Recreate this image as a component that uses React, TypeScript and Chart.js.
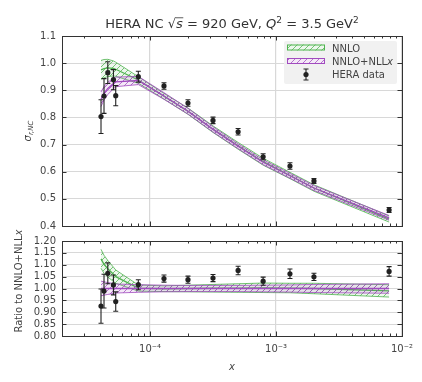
import React, { useEffect, useRef } from 'react';
import { Chart, registerables } from 'chart.js';
Chart.register(...registerables);

// ---------- data ----------
const xValues = [4.08e-5, 4.31e-5, 4.62e-5, 5.12e-5, 5.34e-5, 8.07e-5, 1.29e-4, 2.0e-4, 3.16e-4, 5.0e-4, 7.9e-4, 1.29e-3, 2.0e-3, 7.9e-3];
const sigmaValues = [0.803, 0.879, 0.965, 0.939, 0.88, 0.95, 0.916, 0.853, 0.789, 0.747, 0.655, 0.621, 0.566, 0.459];
const sigmaErrors = [0.062, 0.064, 0.04, 0.037, 0.037, 0.02, 0.012, 0.012, 0.012, 0.012, 0.011, 0.012, 0.009, 0.009];
const ratioValues = [0.926, 0.989, 1.064, 1.015, 0.945, 1.016, 1.042, 1.037, 1.044, 1.076, 1.031, 1.062, 1.049, 1.072];
const ratioErrors = [0.072, 0.071, 0.044, 0.042, 0.041, 0.021, 0.015, 0.015, 0.015, 0.018, 0.017, 0.02, 0.015, 0.02];
const nllxCentral = [0.867, 0.889, 0.907, 0.925, 0.931, 0.936, 0.879, 0.823, 0.756, 0.694, 0.635, 0.585, 0.54, 0.43];
const nllxRelErr = [0.031, 0.028, 0.025, 0.021, 0.019, 0.016, 0.014, 0.013, 0.013, 0.013, 0.014, 0.015, 0.017, 0.02];
const nnloRatio = [1.125, 1.102, 1.083, 1.06, 1.05, 1.002, 0.999, 1.0, 1.001, 1.002, 1.003, 1.002, 1.0, 0.99];
const nnloRatioErr = [0.04, 0.038, 0.035, 0.03, 0.028, 0.013, 0.012, 0.014, 0.016, 0.018, 0.02, 0.02, 0.022, 0.026];
const topYTicks = [0.4, 0.5, 0.6, 0.7, 0.8, 0.9, 1.0, 1.1];
const ratioYTicks = [0.8, 0.85, 0.9, 0.95, 1.0, 1.05, 1.1, 1.15, 1.2];
const xDecadeLabels: Record<string, string> = { '-4': '10⁻⁴', '-3': '10⁻³', '-2': '10⁻²' };
const X_MIN = 2e-5;
const X_MAX = 1e-2;

// ---------- style ----------
const FONT = '"DejaVu Sans", sans-serif';
const GREEN = '#4fb34f';
const PURPLE = '#a14bbf';
const TEXT = '#444444';
const DARK = '#222222';

function makeHatch(line: string, bg: string) {
  const c = document.createElement('canvas');
  c.width = 6; c.height = 6;
  const g = c.getContext('2d')!;
  g.fillStyle = bg; g.fillRect(0, 0, 6, 6);
  g.strokeStyle = line; g.lineWidth = 0.9;
  g.beginPath();
  g.moveTo(0, 6); g.lineTo(6, 0);
  g.moveTo(-1, 1); g.lineTo(1, -1);
  g.moveTo(5, 7); g.lineTo(7, 5);
  g.stroke();
  return g.createPattern(c, 'repeat')!;
}

type Seg = { t: string; italic?: boolean; sup?: boolean; sub?: boolean; over?: boolean };
function drawRich(ctx: CanvasRenderingContext2D, segs: Seg[], cx: number, cy: number, size: number, align: 'center' | 'left' = 'center') {
  const fontFor = (s: Seg) => `${s.italic ? 'italic ' : ''}${s.sup || s.sub ? Math.round(size * 0.7) : size}px ${FONT}`;
  const widths = segs.map((s) => { ctx.font = fontFor(s); return ctx.measureText(s.t).width; });
  const total = widths.reduce((a, b) => a + b, 0);
  let x = align === 'center' ? cx - total / 2 : cx;
  const base = cy + size * 0.36;
  ctx.textAlign = 'left';
  ctx.textBaseline = 'alphabetic';
  segs.forEach((s, i) => {
    ctx.font = fontFor(s);
    const yy = s.sup ? base - size * 0.42 : s.sub ? base + size * 0.22 : base;
    ctx.fillText(s.t, x, yy);
    if (s.over) {
      ctx.save();
      ctx.strokeStyle = ctx.fillStyle as string;
      ctx.lineWidth = 0.8;
      ctx.beginPath();
      ctx.moveTo(x - 0.5, base - size * 0.8);
      ctx.lineTo(x + widths[i] + 0.5, base - size * 0.8);
      ctx.stroke();
      ctx.restore();
    }
    x += widths[i];
  });
  return total;
}

function buildXTicks() {
  const ticks: { value: number; major: boolean }[] = [];
  for (let e = -5; e <= -2; e++) {
    for (let m = 1; m <= 9; m++) {
      const v = m * Math.pow(10, e);
      if (v >= X_MIN * 0.999 && v <= X_MAX * 1.001) ticks.push({ value: v, major: m === 1 });
    }
  }
  return ticks;
}

function frameAndErrors(values: number[], errors: number[]) {
  return {
    id: 'frameAndErrors',
    afterDatasetsDraw(chart: any) {
      const { ctx, scales } = chart;
      const xs = scales.x, ys = scales.y;
      ctx.save();
      ctx.strokeStyle = DARK;
      ctx.lineWidth = 1.1;
      xValues.forEach((xv, i) => {
        const px = xs.getPixelForValue(xv);
        const y1 = ys.getPixelForValue(values[i] - errors[i]);
        const y2 = ys.getPixelForValue(values[i] + errors[i]);
        ctx.beginPath();
        ctx.moveTo(px, y1); ctx.lineTo(px, y2);
        ctx.moveTo(px - 2.5, y1); ctx.lineTo(px + 2.5, y1);
        ctx.moveTo(px - 2.5, y2); ctx.lineTo(px + 2.5, y2);
        ctx.stroke();
      });
      ctx.restore();
    },
    afterDraw(chart: any) {
      const { ctx, chartArea: a, scales } = chart;
      const xs = scales.x, ys = scales.y;
      ctx.save();
      ctx.strokeStyle = '#333333';
      ctx.lineWidth = 1;
      ctx.beginPath();
      xs.ticks.forEach((t: any) => {
        const px = Math.round(xs.getPixelForValue(t.value)) + 0.5;
        const len = t.major ? 4.5 : 2.5;
        ctx.moveTo(px, a.bottom); ctx.lineTo(px, a.bottom - len);
        ctx.moveTo(px, a.top); ctx.lineTo(px, a.top + len);
      });
      ys.ticks.forEach((t: any) => {
        const py = Math.round(ys.getPixelForValue(t.value)) + 0.5;
        ctx.moveTo(a.left, py); ctx.lineTo(a.left + 4.5, py);
        ctx.moveTo(a.right, py); ctx.lineTo(a.right - 4.5, py);
      });
      ctx.stroke();
      ctx.strokeRect(Math.round(a.left) + 0.5, Math.round(a.top) + 0.5, Math.round(a.right - a.left), Math.round(a.bottom - a.top));
      ctx.restore();
    },
  };
}

function bandDatasets(hi: number[], lo: number[], mid: number[], color: string, pattern: CanvasPattern, label: string) {
  const pts = (arr: number[]) => arr.map((v, i) => ({ x: xValues[i], y: v }));
  return [
    { label: label + ' center', data: pts(mid), borderColor: color, borderWidth: 1.3, pointRadius: 0, fill: false },
    { label, data: pts(hi), borderColor: color, borderWidth: 0.8, pointRadius: 0, fill: '+1', backgroundColor: pattern },
    { label: label + ' low', data: pts(lo), borderColor: color, borderWidth: 0.8, pointRadius: 0, fill: false },
  ];
}

function xScale(showLabels: boolean, height: number) {
  return {
    type: 'logarithmic',
    min: X_MIN,
    max: X_MAX,
    afterBuildTicks: (s: any) => { s.ticks = buildXTicks(); },
    afterFit: (s: any) => { s.height = height; },
    border: { display: false },
    grid: {
      drawTicks: false,
      lineWidth: 1.2,
      color: (c: any) => (c.tick && c.tick.major ? '#d8d8d8' : 'rgba(0,0,0,0)'),
    },
    ticks: {
      display: showLabels,
      autoSkip: false,
      maxRotation: 0,
      padding: 7,
      color: TEXT,
      font: { family: FONT, size: 10 },
      callback: (v: number) => {
        const e = Math.round(Math.log10(v));
        return Math.abs(Math.log10(v) - e) < 1e-6 && xDecadeLabels[String(e)] ? xDecadeLabels[String(e)] : '';
      },
    },
  };
}

function yScale(min: number, max: number, ticks: number[], digits: number) {
  return {
    type: 'linear',
    min, max,
    afterBuildTicks: (s: any) => { s.ticks = ticks.map((v) => ({ value: v })); },
    afterFit: (s: any) => { s.width = 62; },
    border: { display: false },
    grid: { drawTicks: false, color: '#d8d8d8', lineWidth: 1 },
    ticks: {
      padding: 6,
      autoSkip: false,
      color: TEXT,
      font: { family: FONT, size: 10 },
      callback: (v: number) => v.toFixed(digits),
    },
  };
}

const TOP_CANVAS_H = 240;
const BOT_CANVAS_TOP = 212;
const BOT_CANVAS_H = 382 - BOT_CANVAS_TOP;

export default function App() {
  const topRef = useRef<HTMLCanvasElement>(null);
  const botRef = useRef<HTMLCanvasElement>(null);

  useEffect(() => {
    const gPat = makeHatch('rgba(79,179,79,0.85)', 'rgba(79,179,79,0.10)');
    const pPat = makeHatch('rgba(161,75,191,0.85)', 'rgba(161,75,191,0.12)');

    // top panel bands
    const nllxHi = nllxCentral.map((v, i) => v * (1 + nllxRelErr[i]));
    const nllxLo = nllxCentral.map((v, i) => v * (1 - nllxRelErr[i]));
    const nnloMid = nllxCentral.map((v, i) => v * nnloRatio[i]);
    const nnloHi = nllxCentral.map((v, i) => v * (nnloRatio[i] + nnloRatioErr[i]));
    const nnloLo = nllxCentral.map((v, i) => v * (nnloRatio[i] - nnloRatioErr[i]));
    // ratio panel bands
    const rNllxMid = nllxCentral.map(() => 1);
    const rNllxHi = nllxRelErr.map((e) => 1 + e);
    const rNllxLo = nllxRelErr.map((e) => 1 - e);
    const rNnloHi = nnloRatio.map((v, i) => v + nnloRatioErr[i]);
    const rNnloLo = nnloRatio.map((v, i) => v - nnloRatioErr[i]);

    const dataSet = (vals: number[]) => ({
      label: 'HERA data',
      data: vals.map((v, i) => ({ x: xValues[i], y: v })),
      showLine: false,
      pointRadius: 2.6,
      pointBackgroundColor: DARK,
      pointBorderColor: DARK,
      pointBorderWidth: 0,
      borderColor: DARK,
      fill: false,
    });

    const topDecor = {
      id: 'topDecor',
      afterDraw(chart: any) {
        const { ctx, chartArea: a } = chart;
        ctx.save();
        // title
        ctx.fillStyle = '#333333';
        drawRich(ctx, [
          { t: 'HERA NC ' }, { t: '√' }, { t: 's', italic: true, over: true },
          { t: ' = 920 GeV, ' }, { t: 'Q', italic: true }, { t: '2', sup: true },
          { t: ' = 3.5 GeV' }, { t: '2', sup: true },
        ], (a.left + a.right) / 2, 23.5, 13);
        // y label
        ctx.save();
        ctx.translate(27, (a.top + a.bottom) / 2);
        ctx.rotate(-Math.PI / 2);
        ctx.fillStyle = TEXT;
        drawRich(ctx, [{ t: 'σ', italic: true }, { t: 'r,NC', italic: true, sub: true }], 0, 0, 10);
        ctx.restore();
        // legend
        const lx = 284, ly = 41, lw = 113, lh = 43;
        ctx.fillStyle = 'rgba(240,240,240,0.92)';
        ctx.beginPath();
        ctx.roundRect(lx, ly, lw, lh, 2);
        ctx.fill();
        const swatch = (y: number, pat: CanvasPattern, col: string) => {
          ctx.fillStyle = '#ffffff';
          ctx.fillRect(287, y - 3, 38, 6);
          ctx.fillStyle = pat;
          ctx.fillRect(287, y - 3, 38, 6);
          ctx.strokeStyle = col;
          ctx.lineWidth = 1;
          ctx.strokeRect(287.5, y - 2.5, 37, 5);
        };
        swatch(47.5, gPat, GREEN);
        swatch(61, pPat, PURPLE);
        ctx.fillStyle = TEXT;
        drawRich(ctx, [{ t: 'NNLO' }], 332, 48, 10, 'left');
        drawRich(ctx, [{ t: 'NNLO+NLL' }, { t: 'x', italic: true }], 332, 61.5, 10, 'left');
        drawRich(ctx, [{ t: 'HERA data' }], 332, 74.5, 10, 'left');
        ctx.strokeStyle = DARK;
        ctx.lineWidth = 1.1;
        ctx.beginPath();
        ctx.moveTo(306, 69); ctx.lineTo(306, 80);
        ctx.moveTo(303.5, 69); ctx.lineTo(308.5, 69);
        ctx.moveTo(303.5, 80); ctx.lineTo(308.5, 80);
        ctx.stroke();
        ctx.fillStyle = DARK;
        ctx.beginPath();
        ctx.arc(306, 74.5, 2.6, 0, Math.PI * 2);
        ctx.fill();
        ctx.restore();
      },
    };

    const botDecor = {
      id: 'botDecor',
      afterDraw(chart: any) {
        const { ctx, chartArea: a } = chart;
        ctx.save();
        ctx.fillStyle = TEXT;
        ctx.save();
        ctx.translate(18, 281 - BOT_CANVAS_TOP);
        ctx.rotate(-Math.PI / 2);
        drawRich(ctx, [{ t: 'Ratio to NNLO+NLL' }, { t: 'x', italic: true }], 0, 0, 10);
        ctx.restore();
        drawRich(ctx, [{ t: 'x', italic: true }], (a.left + a.right) / 2, 366 - BOT_CANVAS_TOP, 10);
        ctx.restore();
      },
    };

    const common = {
      responsive: false,
      animation: false,
      devicePixelRatio: 1,
      plugins: { legend: { display: false }, tooltip: { enabled: false }, title: { display: false } },
      elements: { line: { tension: 0 } },
    };

    const top = new Chart(topRef.current!, {
      type: 'line',
      data: {
        datasets: [
          dataSet(sigmaValues),
          ...bandDatasets(nllxHi, nllxLo, nllxCentral, PURPLE, pPat, 'NNLO+NLLx'),
          ...bandDatasets(nnloHi, nnloLo, nnloMid, GREEN, gPat, 'NNLO'),
        ] as any,
      },
      options: {
        ...common,
        layout: { padding: { top: 36, right: 20, left: 0, bottom: 0 } },
        scales: { x: xScale(false, TOP_CANVAS_H - 226), y: yScale(0.4, 1.1, topYTicks, 1) },
      } as any,
      plugins: [frameAndErrors(sigmaValues, sigmaErrors), topDecor],
    });

    const bot = new Chart(botRef.current!, {
      type: 'line',
      data: {
        datasets: [
          dataSet(ratioValues),
          ...bandDatasets(rNllxHi, rNllxLo, rNllxMid, PURPLE, pPat, 'NNLO+NLLx'),
          ...bandDatasets(rNnloHi, rNnloLo, nnloRatio, GREEN, gPat, 'NNLO'),
        ] as any,
      },
      options: {
        ...common,
        layout: { padding: { top: 241 - BOT_CANVAS_TOP, right: 20, left: 0, bottom: 0 } },
        scales: { x: xScale(true, 382 - 336), y: yScale(0.8, 1.2, ratioYTicks, 2) },
      } as any,
      plugins: [frameAndErrors(ratioValues, ratioErrors), botDecor],
    });

    return () => { top.destroy(); bot.destroy(); };
  }, []);

  return (
    <div style={{ position: 'fixed', left: 0, top: 0, width: 422, height: 382, background: '#ffffff' }}>
      <canvas ref={topRef} width={422} height={TOP_CANVAS_H} style={{ position: 'absolute', left: 0, top: 0, display: 'block' }} />
      <canvas ref={botRef} width={422} height={BOT_CANVAS_H} style={{ position: 'absolute', left: 0, top: BOT_CANVAS_TOP, display: 'block' }} />
    </div>
  );
}
